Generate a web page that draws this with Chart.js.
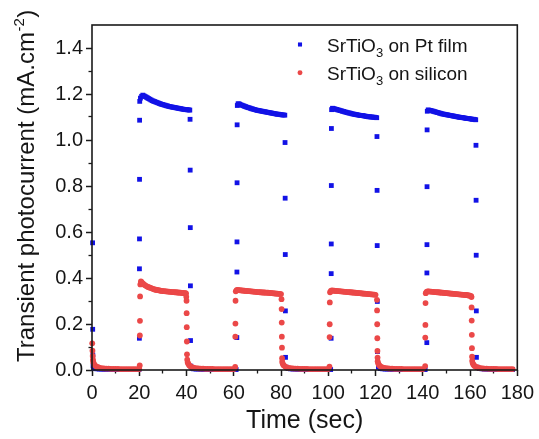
<!DOCTYPE html>
<html>
<head>
<meta charset="utf-8">
<script src="https://cdn.jsdelivr.net/npm/chart.js@4.4.0/dist/chart.umd.min.js"></script>
<style>
    html, body { margin: 0; padding: 0; background: #fff; }
</style>
</head>
<body>
<canvas id="myChart" width="539" height="439"></canvas>
<script>
// tick values
const xTicks = [0, 20, 40, 60, 80, 100, 120, 140, 160, 180];
const xMinorTicks = [10, 30, 50, 70, 90, 110, 130, 150, 170];
const yTicks = [0, 0.2, 0.4, 0.6, 0.8, 1.0, 1.2, 1.4];
const yMinorTicks = [0.1, 0.3, 0.5, 0.7, 0.9, 1.1, 1.3];

// SrTiO3 on Pt film (blue squares)
const ptTime = [
    0.25, 0.3, 0.35, 0.45, 0.7,
    1, 2, 3, 4, 5, 6, 7, 8, 9, 10, 11, 12, 13, 14, 15, 16, 17, 18, 19, 19.9,
    20.05, 20.08, 20.1, 20.12, 20.15,
    20.2, 20.5, 21, 21.5, 22, 22.5, 23, 23.5, 24, 24.5, 25, 25.5, 26, 26.5, 27, 27.5, 28, 28.5, 29, 29.5, 30, 30.5, 31, 31.5, 32, 32.5, 33, 33.5, 34, 34.5, 35, 35.5, 36, 36.5, 37, 37.5, 38, 38.5, 39, 39.5, 40, 40.5, 41, 41.4,
    41.5, 41.55, 41.6, 41.65, 41.7, 41.8, 42.3,
    43, 44, 45, 46, 47, 48, 49, 50, 51, 52, 53, 54, 55, 56, 57, 58, 59, 60, 61,
    61.3, 61.33, 61.36, 61.39, 61.42,
    61.5, 61.8, 62, 62.5, 63, 63.5, 64, 64.5, 65, 65.5, 66, 66.5, 67, 67.5, 68, 68.5, 69, 69.5, 70, 70.5, 71, 71.5, 72, 72.5, 73, 73.5, 74, 74.5, 75, 75.5, 76, 76.5, 77, 77.5, 78, 78.5, 79, 79.5, 80, 80.5, 81, 81.6,
    81.7, 81.75, 81.8, 81.85, 81.9, 82.3,
    83, 84, 85, 86, 87, 88, 89, 90, 91, 92, 93, 94, 95, 96, 97, 98, 99, 100, 101,
    101.2, 101.23, 101.26, 101.29, 101.32,
    101.4, 101.8, 102, 102.5, 103, 103.5, 104, 104.5, 105, 105.5, 106, 106.5, 107, 107.5, 108, 108.5, 109, 109.5, 110, 110.5, 111, 111.5, 112, 112.5, 113, 113.5, 114, 114.5, 115, 115.5, 116, 116.5, 117, 117.5, 118, 118.5, 119, 119.5, 120, 120.5,
    120.6, 120.65, 120.7, 120.75, 120.8, 121.2,
    122, 123, 124, 125, 126, 127, 128, 129, 130, 131, 132, 133, 134, 135, 136, 137, 138, 139, 140, 141,
    141.7, 141.73, 141.76, 141.79, 141.82,
    141.9, 142.3, 143, 143.5, 144, 144.5, 145, 145.5, 146, 146.5, 147, 147.5, 148, 148.5, 149, 149.5, 150, 150.5, 151, 151.5, 152, 152.5, 153, 153.5, 154, 154.5, 155, 155.5, 156, 156.5, 157, 157.5, 158, 158.5, 159, 159.5, 160, 160.5, 161, 161.5, 162, 162.4,
    162.5, 162.55, 162.6, 162.65, 162.7, 163.1,
    164, 165, 166, 167, 168, 169, 170, 171, 172, 173, 174, 175, 176, 177, 178
];
const ptCurrent = [
    0.553, 0.177, 0.065, 0.018, 0.009,
    0.006, 0.005, 0.004, 0.004, 0.003, 0.003, 0.003, 0.003, 0.002, 0.002, 0.002, 0.002, 0.002, 0.002, 0.002, 0.002, 0.002, 0.002, 0.002, 0.002,
    0.138, 0.440, 0.570, 0.829, 1.086,
    1.168, 1.182, 1.190, 1.195, 1.192, 1.189, 1.186, 1.183, 1.180, 1.177, 1.174, 1.171, 1.169, 1.167, 1.165, 1.163, 1.161, 1.159, 1.157, 1.155, 1.154, 1.152, 1.151, 1.149, 1.148, 1.146, 1.145, 1.144, 1.143, 1.142, 1.141, 1.140, 1.139, 1.138, 1.137, 1.136, 1.135, 1.134, 1.133, 1.132, 1.132, 1.131, 1.131, 1.130,
    1.090, 0.869, 0.619, 0.366, 0.128, 0.017, 0.008,
    0.005, 0.004, 0.004, 0.003, 0.003, 0.003, 0.003, 0.002, 0.002, 0.002, 0.002, 0.002, 0.002, 0.002, 0.002, 0.002, 0.002, 0.002, 0.002,
    0.141, 0.426, 0.557, 0.814, 1.066,
    1.150, 1.157, 1.157, 1.156, 1.153, 1.151, 1.149, 1.147, 1.145, 1.143, 1.141, 1.140, 1.138, 1.136, 1.135, 1.133, 1.132, 1.130, 1.129, 1.128, 1.127, 1.126, 1.125, 1.124, 1.123, 1.122, 1.121, 1.120, 1.119, 1.118, 1.117, 1.116, 1.115, 1.114, 1.113, 1.112, 1.112, 1.111, 1.110, 1.109, 1.109, 1.108,
    0.989, 0.747, 0.502, 0.257, 0.055, 0.012,
    0.006, 0.005, 0.004, 0.004, 0.003, 0.003, 0.003, 0.003, 0.002, 0.002, 0.002, 0.002, 0.002, 0.002, 0.002, 0.002, 0.002, 0.002, 0.002,
    0.138, 0.419, 0.548, 0.802, 1.050,
    1.132, 1.138, 1.137, 1.136, 1.134, 1.133, 1.131, 1.130, 1.128, 1.127, 1.125, 1.124, 1.122, 1.121, 1.119, 1.118, 1.117, 1.116, 1.114, 1.113, 1.112, 1.111, 1.110, 1.109, 1.108, 1.107, 1.106, 1.106, 1.105, 1.104, 1.103, 1.102, 1.101, 1.101, 1.100, 1.100, 1.099, 1.099, 1.098, 1.097,
    1.015, 0.781, 0.541, 0.298, 0.080, 0.012,
    0.006, 0.005, 0.004, 0.004, 0.003, 0.003, 0.003, 0.003, 0.002, 0.002, 0.002, 0.002, 0.002, 0.002, 0.002, 0.002, 0.002, 0.002, 0.002, 0.002,
    0.119, 0.422, 0.545, 0.797, 1.044,
    1.125, 1.131, 1.129, 1.128, 1.126, 1.125, 1.123, 1.122, 1.120, 1.119, 1.117, 1.116, 1.114, 1.113, 1.112, 1.111, 1.110, 1.109, 1.108, 1.107, 1.106, 1.105, 1.104, 1.103, 1.102, 1.101, 1.100, 1.099, 1.098, 1.098, 1.097, 1.096, 1.095, 1.094, 1.093, 1.093, 1.092, 1.091, 1.090, 1.090, 1.089, 1.088,
    0.977, 0.738, 0.499, 0.257, 0.055, 0.012,
    0.006, 0.005, 0.004, 0.004, 0.003, 0.003, 0.003, 0.003, 0.002, 0.002, 0.002, 0.002, 0.002, 0.002, 0.002
];

// SrTiO3 on silicon (red dots)
const siTime = [
    0.1, 0.2, 0.3, 0.4, 0.5, 0.7, 1, 1.5, 2, 2.5, 3, 4, 5,
    6, 7, 8, 9, 10, 11, 12, 13, 14, 15, 16, 17, 18, 19, 20,
    20.2, 20.25, 20.3, 20.35,
    20.45, 20.7, 21, 21.5, 22, 22.5, 23, 23.5, 24, 24.5, 25, 25.5, 26, 26.5, 27, 27.5, 28, 28.5, 29, 29.5, 30, 30.5, 31, 31.5, 32, 32.5, 33, 33.5, 34, 34.5, 35, 35.5, 36, 36.5, 37, 37.5, 38, 38.5, 39, 39.5, 39.8,
    39.9, 40, 40.05, 40.1, 40.15, 40.2, 40.3, 40.5, 40.8, 41.2, 41.7, 42.3, 43, 44, 45,
    46, 47, 48, 49, 50, 51, 52, 53, 54, 55, 56, 57, 58, 59, 60,
    60.6, 60.65, 60.7, 60.75,
    60.85, 61.2, 61.6, 62, 62.5, 63, 63.5, 64, 64.5, 65, 65.5, 66, 66.5, 67, 67.5, 68, 68.5, 69, 69.5, 70, 70.5, 71, 71.5, 72, 72.5, 73, 73.5, 74, 74.5, 75, 75.5, 76, 76.5, 77, 77.5, 78, 78.5, 79, 79.5, 80,
    80.2, 80.25, 80.3, 80.35, 80.4, 80.45, 80.5, 80.7, 81, 81.4, 81.9, 82.5, 83.2, 84, 85,
    86, 87, 88, 89, 90, 91, 92, 93, 94, 95, 96, 97, 98, 99, 100,
    100.5, 100.55, 100.6, 100.65,
    100.75, 101.1, 101.5, 102, 102.5, 103, 103.5, 104, 104.5, 105, 105.5, 106, 106.5, 107, 107.5, 108, 108.5, 109, 109.5, 110, 110.5, 111, 111.5, 112, 112.5, 113, 113.5, 114, 114.5, 115, 115.5, 116, 116.5, 117, 117.5, 118, 118.5, 119, 119.5, 120,
    120.6, 120.65, 120.7, 120.75, 120.8, 120.85, 120.9, 121.1, 121.4, 121.8, 122.3, 122.9, 123.6, 124.4, 125.3,
    126, 127, 128, 129, 130, 131, 132, 133, 134, 135, 136, 137, 138, 139, 140,
    141, 141.05, 141.1, 141.15,
    141.25, 141.6, 142, 142.5, 143, 143.5, 144, 144.5, 145, 145.5, 146, 146.5, 147, 147.5, 148, 148.5, 149, 149.5, 150, 150.5, 151, 151.5, 152, 152.5, 153, 153.5, 154, 154.5, 155, 155.5, 156, 156.5, 157, 157.5, 158, 158.5, 159, 159.5, 160, 160.5,
    160.6, 160.65, 160.7, 160.75, 160.8, 160.85, 160.9, 161.1, 161.4, 161.8, 162.3, 162.9, 163.6, 164.4, 165.3,
    166, 167, 168, 169, 170, 171, 172, 173, 174, 175, 176, 177, 178
];
const siCurrent = [
    0.116, 0.084, 0.061, 0.045, 0.036, 0.029, 0.023, 0.018, 0.014, 0.012, 0.010, 0.008, 0.007,
    0.006, 0.006, 0.005, 0.005, 0.005, 0.005, 0.004, 0.004, 0.004, 0.004, 0.004, 0.004, 0.004, 0.004, 0.004,
    0.020, 0.150, 0.214, 0.320,
    0.372, 0.385, 0.382, 0.377, 0.372, 0.368, 0.365, 0.362, 0.360, 0.358, 0.356, 0.354, 0.352, 0.350, 0.349, 0.348, 0.347, 0.346, 0.345, 0.344, 0.343, 0.343, 0.342, 0.342, 0.341, 0.341, 0.340, 0.340, 0.339, 0.339, 0.338, 0.338, 0.337, 0.337, 0.336, 0.336, 0.335, 0.335, 0.334, 0.334, 0.333,
    0.318, 0.301, 0.247, 0.186, 0.124, 0.068, 0.045, 0.033, 0.026, 0.020, 0.016, 0.012, 0.010, 0.008, 0.007,
    0.006, 0.006, 0.005, 0.005, 0.005, 0.005, 0.004, 0.004, 0.004, 0.004, 0.004, 0.004, 0.004, 0.004, 0.004,
    0.013, 0.145, 0.202, 0.301,
    0.342, 0.347, 0.348, 0.347, 0.347, 0.346, 0.346, 0.345, 0.345, 0.344, 0.344, 0.343, 0.343, 0.342, 0.342, 0.341, 0.341, 0.340, 0.340, 0.339, 0.339, 0.338, 0.338, 0.337, 0.337, 0.337, 0.336, 0.336, 0.336, 0.335, 0.335, 0.334, 0.334, 0.333, 0.333, 0.332, 0.332, 0.331, 0.331, 0.330,
    0.308, 0.265, 0.206, 0.145, 0.097, 0.051, 0.036, 0.028, 0.022, 0.018, 0.014, 0.011, 0.009, 0.008, 0.007,
    0.006, 0.006, 0.005, 0.005, 0.005, 0.005, 0.004, 0.004, 0.004, 0.004, 0.004, 0.004, 0.004, 0.004, 0.004,
    0.015, 0.143, 0.199, 0.294,
    0.338, 0.344, 0.346, 0.345, 0.345, 0.344, 0.344, 0.343, 0.343, 0.342, 0.342, 0.341, 0.341, 0.340, 0.340, 0.339, 0.339, 0.338, 0.338, 0.337, 0.337, 0.336, 0.336, 0.335, 0.335, 0.334, 0.334, 0.333, 0.333, 0.332, 0.332, 0.331, 0.331, 0.330, 0.330, 0.329, 0.329, 0.328, 0.328, 0.327,
    0.305, 0.259, 0.199, 0.138, 0.083, 0.054, 0.038, 0.029, 0.023, 0.018, 0.014, 0.011, 0.009, 0.008, 0.007,
    0.006, 0.006, 0.005, 0.005, 0.005, 0.005, 0.004, 0.004, 0.004, 0.004, 0.004, 0.004, 0.004, 0.004, 0.004,
    0.017, 0.141, 0.196, 0.291,
    0.334, 0.340, 0.342, 0.342, 0.341, 0.341, 0.340, 0.340, 0.339, 0.339, 0.338, 0.338, 0.337, 0.337, 0.336, 0.336, 0.335, 0.335, 0.334, 0.334, 0.333, 0.333, 0.332, 0.332, 0.331, 0.331, 0.330, 0.330, 0.329, 0.329, 0.328, 0.328, 0.327, 0.327, 0.326, 0.326, 0.325, 0.324, 0.323, 0.321,
    0.317, 0.272, 0.215, 0.153, 0.095, 0.058, 0.040, 0.030, 0.024, 0.019, 0.015, 0.012, 0.010, 0.008, 0.007,
    0.006, 0.006, 0.005, 0.005, 0.005, 0.005, 0.004, 0.004, 0.004, 0.004, 0.004, 0.004, 0.004
];

if (ptTime.length !== ptCurrent.length || siTime.length !== siCurrent.length) {
    throw new Error('length mismatch pt ' + ptTime.length + '/' + ptCurrent.length + ' si ' + siTime.length + '/' + siCurrent.length);
}

const fontFamily = "'Liberation Sans', Arial, sans-serif";
const textColor = '#151515';
const blue = '#1212e6';
const red = '#eb4848';

Chart.defaults.font.family = fontFamily;
Chart.defaults.color = textColor;

function toPoints(ts, vs) {
    let pts = [];
    for (let i = 0; i < ts.length; i++) {
        pts.push({ x: ts[i], y: vs[i] });
    }
    return pts;
}

function setTicks(values) {
    return (scale) => { scale.ticks = values.map(v => ({ value: v })); };
}

// black box round the plot area
const framePlugin = {
    id: 'frame',
    afterDraw(chart) {
        const { left, top, right, bottom } = chart.chartArea;
        const c = chart.ctx;
        c.save();
        c.strokeStyle = '#1a1a1a';
        c.lineWidth = 1.6;
        c.strokeRect(left, top, right - left, bottom - top);
        c.restore();
    }
};

// y title with superscript
const yTitlePlugin = {
    id: 'yTitle',
    afterDraw(chart) {
        const c = chart.ctx;
        c.save();
        c.translate(34, 362);
        c.rotate(-Math.PI / 2);
        c.fillStyle = textColor;
        c.textBaseline = 'alphabetic';
        c.textAlign = 'left';
        let x = 0;
        c.font = '24px ' + fontFamily;
        c.fillText('Transient photocurrent (mA.cm', x, 0);
        x += c.measureText('Transient photocurrent (mA.cm').width;
        c.font = '15px ' + fontFamily;
        c.fillText('-2', x + 0.5, -10);
        x += c.measureText('-2').width + 1;
        c.font = '24px ' + fontFamily;
        c.fillText(')', x, 0);
        c.restore();
    }
};

// legend inside plot, subscript 3
const legendPlugin = {
    id: 'stoLegend',
    afterDraw(chart) {
        const c = chart.ctx;
        chart.data.datasets.forEach((ds, i) => {
            const y = 44.5 + i * 28.3;
            c.save();
            c.fillStyle = ds.backgroundColor;
            Chart.helpers.drawPoint(c, { pointStyle: ds.pointStyle, radius: ds.pointRadius * 0.85, rotation: 0, borderWidth: 0 }, 300, y);
            c.fillStyle = textColor;
            c.textBaseline = 'alphabetic';
            const parts = ds.label.split('₃');
            let x = 327;
            c.font = '19px ' + fontFamily;
            c.fillText(parts[0], x, y + 7.5);
            x += c.measureText(parts[0]).width;
            c.font = '13px ' + fontFamily;
            c.fillText('3', x, y + 12);
            x += c.measureText('3').width;
            c.font = '19px ' + fontFamily;
            c.fillText(parts[1], x, y + 7.5);
            c.restore();
        });
    }
};

const ctx = document.getElementById('myChart').getContext('2d');
const myChart = new Chart(ctx, {
    type: 'scatter',
    data: {
        datasets: [
            {
                label: 'SrTiO₃ on Pt film',
                data: toPoints(ptTime, ptCurrent),
                pointStyle: 'rect',
                pointRadius: 3.4,
                borderWidth: 0,
                backgroundColor: blue,
                order: 1,
                clip: false
            },
            {
                label: 'SrTiO₃ on silicon',
                data: toPoints(siTime, siCurrent),
                pointStyle: 'circle',
                pointRadius: 2.9,
                borderWidth: 0,
                backgroundColor: red,
                order: 0,
                clip: false
            }
        ]
    },
    options: {
        responsive: false,
        animation: false,
        events: [],
        layout: { padding: { left: 0, right: 18, top: 25, bottom: 0 } },
        plugins: {
            legend: { display: false },
            tooltip: { enabled: false }
        },
        scales: {
            x: {
                type: 'linear',
                position: 'bottom',
                min: 0,
                max: 180,
                weight: 1,
                afterBuildTicks: setTicks(xTicks),
                afterFit: (s) => { s.height = 69; },
                ticks: { font: { size: 20 }, padding: 5, maxRotation: 0, autoSkip: false },
                grid: { drawOnChartArea: false, tickLength: 6, tickColor: '#1a1a1a', tickWidth: 1.5 },
                border: { display: false },
                title: { display: true, text: 'Time (sec)', font: { size: 25 }, padding: { top: 0, bottom: 3 } }
            },
            xMinor: {
                type: 'linear',
                axis: 'x',
                position: 'bottom',
                min: 0,
                max: 180,
                weight: 0,
                afterBuildTicks: setTicks(xMinorTicks),
                afterFit: (s) => { s.height = 0; },
                ticks: { display: false },
                grid: { drawOnChartArea: false, tickLength: 3.5, tickColor: '#1a1a1a', tickWidth: 1.3 },
                border: { display: false }
            },
            y: {
                type: 'linear',
                position: 'left',
                min: 0,
                max: 1.5,
                weight: 1,
                afterBuildTicks: setTicks(yTicks),
                afterFit: (s) => { s.width = 92; },
                ticks: { font: { size: 20 }, padding: 3, callback: (v) => v.toFixed(1) },
                grid: { drawOnChartArea: false, tickLength: 6, tickColor: '#1a1a1a', tickWidth: 1.5 },
                border: { display: false }
            },
            yMinor: {
                type: 'linear',
                axis: 'y',
                position: 'left',
                min: 0,
                max: 1.5,
                weight: 0,
                afterBuildTicks: setTicks(yMinorTicks),
                afterFit: (s) => { s.width = 0; },
                ticks: { display: false },
                grid: { drawOnChartArea: false, tickLength: 3.5, tickColor: '#1a1a1a', tickWidth: 1.3 },
                border: { display: false }
            }
        }
    },
    plugins: [framePlugin, yTitlePlugin, legendPlugin]
});
</script>
</body>
</html>
